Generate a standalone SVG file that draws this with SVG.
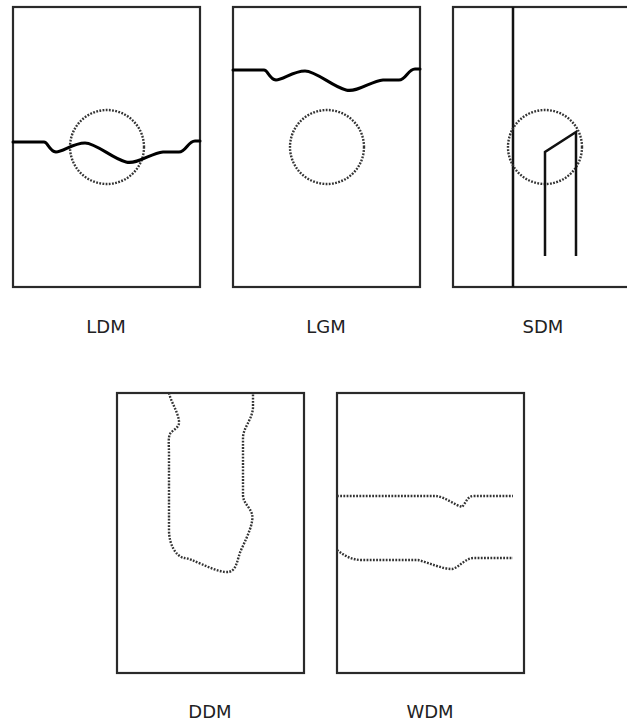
<svg xmlns="http://www.w3.org/2000/svg" width="627" height="722" viewBox="0 0 627 722">
<style>
.box{fill:none;stroke:#2a2a2a;stroke-width:2.2}
.crack{fill:none;stroke:#000;stroke-width:3;stroke-linejoin:round;stroke-linecap:round}
.dot{fill:none;stroke:#333;stroke-width:2.4;stroke-dasharray:1.8 1.4}
.bar{fill:none;stroke:#111;stroke-width:2.5}
.lbl{font-family:"DejaVu Sans",Verdana,sans-serif;font-size:18px;fill:#222;text-anchor:middle}
</style>
<defs>
<path id="wave" d="M13,142 L44,142 C48,142 49,151 56,152 C63,152 73,143 85,143 C96,143 113,159 126,162 C137,165 151,153 163,152 L179,152 C186,152 188,141 195,141 L200,141"/>
</defs>
<rect width="627" height="722" fill="#fff"/>
<g id="LDM">
<rect class="box" x="13" y="7" width="187" height="280"/>
<circle class="dot" cx="107" cy="147" r="37"/>
<use href="#wave" class="crack"/>
<text class="lbl" x="106" y="333">LDM</text>
</g>
<g id="LGM">
<rect class="box" x="233" y="7" width="187" height="280"/>
<circle class="dot" cx="327" cy="147" r="37"/>
<use href="#wave" class="crack" transform="translate(220,-72)"/>
<text class="lbl" x="326" y="333">LGM</text>
</g>
<g id="SDM">
<rect class="box" x="453" y="7" width="187" height="280"/>
<line class="bar" x1="513" y1="7" x2="513" y2="287"/>
<circle class="dot" cx="545" cy="147" r="37"/>
<polyline class="bar" points="545,256 545,152 576,132 576,256"/>
<text class="lbl" x="543" y="333">SDM</text>
</g>
<g id="DDM">
<rect class="box" x="117" y="393" width="187" height="280"/>
<path class="dot" d="M169,393 C171,402 178,412 179,421 C180,428 172,430 170,434 C168,438 169,445 169,455 L169,530 C169,545 176,556 184,558 C192,558 210,570 225,572 C238,573 236,560 242,548 C248,535 254,522 252,514 C250,507 243,503 243,495 L243,438 C243,428 252,420 253,408 L253,393"/>
<text class="lbl" x="210" y="718">DDM</text>
</g>
<g id="WDM">
<rect class="box" x="337" y="393" width="187" height="280"/>
<path class="dot" d="M337,496 L436,496 C445,497 455,505 462,507 C466,503 467,496 474,496 L513,496"/>
<path class="dot" d="M337,550 C345,556 352,560 362,560 L418,560 C430,563 442,569 452,569 C460,567 465,558 474,558 L513,558"/>
<text class="lbl" x="430" y="718">WDM</text>
</g>
</svg>
